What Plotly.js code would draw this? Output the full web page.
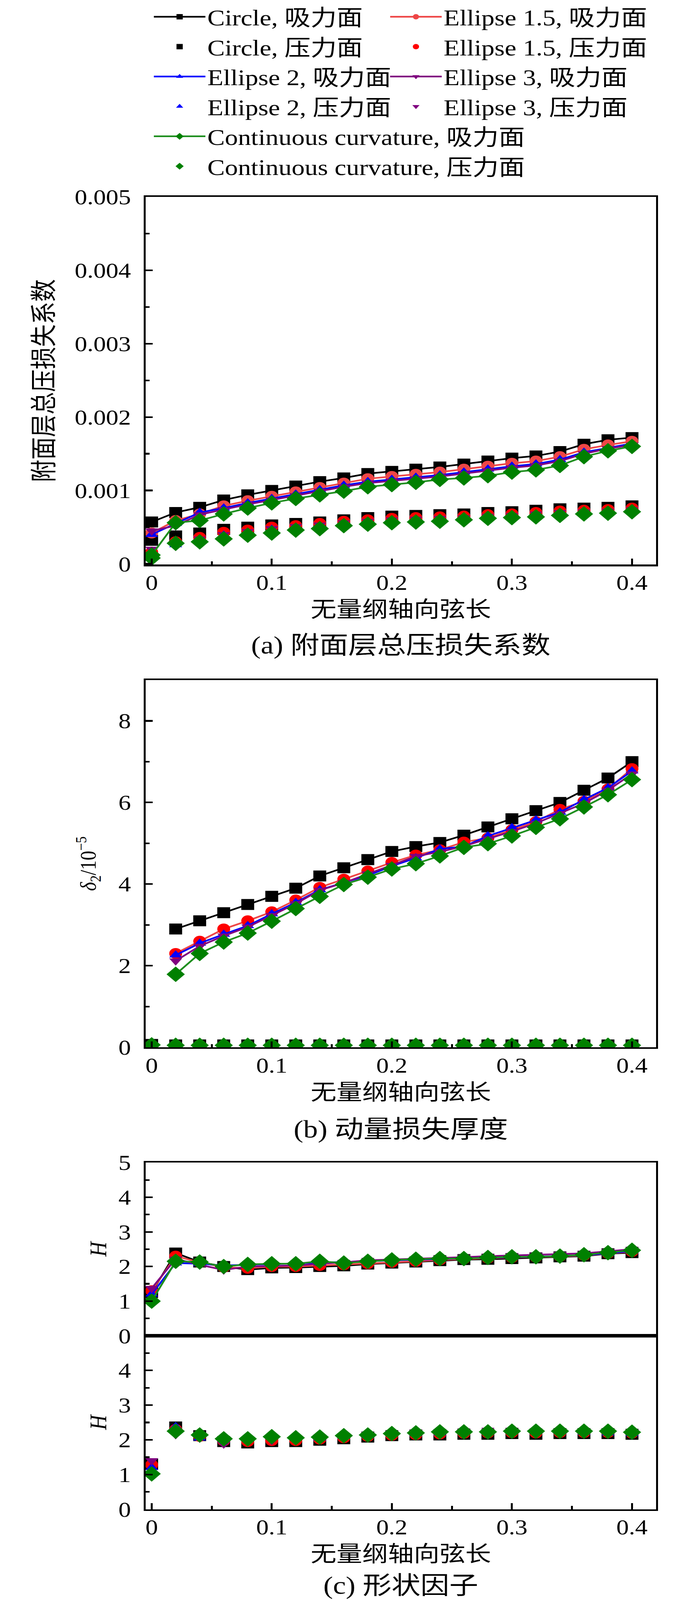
<!DOCTYPE html>
<html>
<head>
<meta charset="utf-8">
<script src="https://cdn.plot.ly/plotly-3.0.1.min.js"></script>
<style>
  body { margin: 0; background: #fff; overflow: hidden; }
  #plot { width: 1772px; height: 4822px; transform-origin: 0 0; }
</style>
</head>
<body>
<div id="plot"></div>
<script>
// axial chord positions (dimensionless)
var xs = [0, 0.02, 0.04, 0.06, 0.08, 0.10, 0.12, 0.14, 0.16, 0.18, 0.20,
          0.22, 0.24, 0.26, 0.28, 0.30, 0.32, 0.34, 0.36, 0.38, 0.40];
var xsNoLE = [0.02, 0.04, 0.06, 0.08, 0.10, 0.12, 0.14, 0.16, 0.18, 0.20,
              0.22, 0.24, 0.26, 0.28, 0.30, 0.32, 0.34, 0.36, 0.38, 0.40];

var shapes = ["Circle", "Ellipse 1.5", "Ellipse 2", "Ellipse 3", "Continuous curvature"];
var sides = ["吸力面", "压力面"];

// (a) total pressure loss coefficient, suction side
var lossCircleSS = [0.00057, 0.00070, 0.00077, 0.00087, 0.00094, 0.00100, 0.00106, 0.00112, 0.00117, 0.00123, 0.00126,
                    0.00129, 0.00132, 0.00136, 0.00140, 0.00144, 0.00147, 0.00153, 0.00163, 0.00169, 0.00172];
var lossE15SS = [0.00042, 0.00059, 0.00068, 0.00079, 0.00086, 0.00092, 0.00098, 0.00104, 0.00110, 0.00116, 0.00119,
                 0.00122, 0.00125, 0.00129, 0.00133, 0.00137, 0.00140, 0.00146, 0.00156, 0.00162, 0.00167];
var lossE2SS = [0.00040, 0.00055, 0.00070, 0.00076, 0.00083, 0.00089, 0.00095, 0.00101, 0.00107, 0.00112, 0.00115,
                0.00118, 0.00121, 0.00125, 0.00129, 0.00133, 0.00136, 0.00142, 0.00152, 0.00158, 0.00164];
var lossE3SS = [0.00045, 0.00052, 0.00067, 0.00074, 0.00081, 0.00087, 0.00093, 0.00099, 0.00105, 0.00110, 0.00113,
                0.00116, 0.00119, 0.00123, 0.00127, 0.00131, 0.00134, 0.00140, 0.00150, 0.00157, 0.00162];
var lossCCSS = [0.00012, 0.00056, 0.00059, 0.00068, 0.00076, 0.00083, 0.00089, 0.00094, 0.00099, 0.00105, 0.00108,
                0.00111, 0.00115, 0.00117, 0.00120, 0.00125, 0.00128, 0.00134, 0.00146, 0.00154, 0.00160];
// (a) pressure side
var lossCirclePS = [0.00032, 0.00038, 0.00042, 0.00047, 0.00050, 0.00053, 0.00055, 0.00057, 0.00060, 0.00063, 0.00065,
                    0.00066, 0.00067, 0.00068, 0.00070, 0.00071, 0.00073, 0.00075, 0.00076, 0.00077, 0.00079];
var lossE15PS = [0.00016, 0.00030, 0.00036, 0.00043, 0.00046, 0.00050, 0.00052, 0.00055, 0.00058, 0.00060, 0.00062,
                 0.00063, 0.00064, 0.00065, 0.00067, 0.00068, 0.00070, 0.00072, 0.00073, 0.00074, 0.00076];
var lossE2PS = [0.00012, 0.00026, 0.00032, 0.00039, 0.00043, 0.00047, 0.00050, 0.00052, 0.00055, 0.00057, 0.00059,
                0.00060, 0.00061, 0.00062, 0.00064, 0.00065, 0.00067, 0.00069, 0.00070, 0.00071, 0.00073];
var lossE3PS = [0.00020, 0.00024, 0.00034, 0.00040, 0.00044, 0.00048, 0.00051, 0.00053, 0.00056, 0.00058, 0.00060,
                0.00061, 0.00062, 0.00063, 0.00065, 0.00066, 0.00068, 0.00070, 0.00071, 0.00072, 0.00074];
var lossCCPS = [0.00008, 0.00028, 0.00030, 0.00034, 0.00039, 0.00042, 0.00046, 0.00048, 0.00052, 0.00054, 0.00056,
                0.00057, 0.00058, 0.00060, 0.00062, 0.00063, 0.00064, 0.00066, 0.00068, 0.00069, 0.00071];

// (b) momentum thickness / 1e-5, suction side (starts at 0.02)
var thetaCircleSS = [2.90, 3.10, 3.30, 3.50, 3.70, 3.90, 4.20, 4.40, 4.60, 4.80,
                     4.92, 5.02, 5.20, 5.40, 5.60, 5.80, 6.00, 6.30, 6.60, 7.00];
var thetaE15SS = [2.30, 2.60, 2.90, 3.10, 3.32, 3.61, 3.92, 4.12, 4.32, 4.53,
                  4.71, 4.84, 5.03, 5.13, 5.33, 5.53, 5.83, 6.03, 6.33, 6.83];
var thetaE2SS = [2.26, 2.55, 2.77, 2.98, 3.27, 3.55, 3.86, 4.03, 4.21, 4.44,
                 4.64, 4.86, 4.92, 5.18, 5.38, 5.57, 5.76, 6.07, 6.36, 6.77];
var thetaE3SS = [2.12, 2.48, 2.73, 2.95, 3.23, 3.52, 3.85, 4.03, 4.25, 4.46,
                 4.68, 4.79, 4.93, 5.11, 5.29, 5.49, 5.73, 5.98, 6.30, 6.70];
var thetaCCSS = [1.79, 2.30, 2.58, 2.80, 3.09, 3.40, 3.70, 3.99, 4.17, 4.37,
                 4.50, 4.69, 4.90, 4.99, 5.18, 5.39, 5.60, 5.89, 6.19, 6.56];
// (b) pressure side
var thetaCirclePS = [0.07, 0.06, 0.06, 0.06, 0.06, 0.06, 0.06, 0.06, 0.06, 0.06, 0.06,
                     0.06, 0.06, 0.06, 0.06, 0.06, 0.06, 0.06, 0.06, 0.06, 0.06];
var thetaE15PS = [0.06, 0.05, 0.05, 0.05, 0.05, 0.05, 0.05, 0.05, 0.05, 0.05, 0.05,
                  0.05, 0.05, 0.05, 0.05, 0.05, 0.05, 0.05, 0.05, 0.05, 0.05];
var thetaE2PS = [0.06, 0.05, 0.05, 0.05, 0.05, 0.05, 0.05, 0.05, 0.05, 0.05, 0.05,
                 0.05, 0.05, 0.05, 0.05, 0.05, 0.05, 0.05, 0.05, 0.05, 0.05];
var thetaE3PS = [0.06, 0.05, 0.05, 0.05, 0.05, 0.05, 0.05, 0.05, 0.05, 0.05, 0.05,
                 0.05, 0.05, 0.05, 0.05, 0.05, 0.05, 0.05, 0.05, 0.05, 0.05];
var thetaCCPS = [0.06, 0.05, 0.05, 0.05, 0.05, 0.05, 0.05, 0.05, 0.05, 0.05, 0.05,
                 0.05, 0.05, 0.05, 0.05, 0.05, 0.05, 0.05, 0.05, 0.05, 0.05];

// (c) shape factor H, suction side
var hCircleSS = [1.25, 2.39, 2.13, 2.00, 1.91, 1.96, 1.97, 2.00, 2.02, 2.07, 2.10,
                 2.13, 2.17, 2.20, 2.21, 2.23, 2.25, 2.28, 2.30, 2.37, 2.40];
var hE15SS = [1.30, 2.30, 2.12, 1.98, 1.95, 2.00, 2.00, 2.03, 2.05, 2.08, 2.12,
              2.15, 2.19, 2.22, 2.24, 2.26, 2.27, 2.29, 2.32, 2.38, 2.43];
var hE2SS = [1.20, 2.10, 2.08, 2.03, 2.05, 2.07, 2.08, 2.10, 2.12, 2.15, 2.18,
             2.20, 2.21, 2.23, 2.25, 2.27, 2.28, 2.30, 2.33, 2.38, 2.45];
var hE3SS = [1.37, 2.22, 2.05, 1.90, 2.00, 2.02, 2.03, 2.08, 2.12, 2.18, 2.20,
             2.22, 2.25, 2.27, 2.30, 2.32, 2.33, 2.35, 2.38, 2.44, 2.50];
var hCCSS = [1.00, 2.15, 2.13, 2.00, 2.06, 2.08, 2.08, 2.15, 2.10, 2.15, 2.19,
             2.21, 2.23, 2.23, 2.26, 2.28, 2.28, 2.30, 2.34, 2.40, 2.47];
// (c) shape factor H, pressure side
var hCirclePS = [1.30, 2.37, 2.12, 1.95, 1.91, 1.95, 1.95, 1.99, 2.03, 2.08, 2.12,
                 2.14, 2.14, 2.16, 2.16, 2.18, 2.16, 2.18, 2.18, 2.18, 2.16];
var hE15PS = [1.28, 2.30, 2.10, 1.97, 1.95, 1.98, 1.98, 2.02, 2.06, 2.10, 2.13,
              2.15, 2.17, 2.19, 2.20, 2.21, 2.20, 2.21, 2.21, 2.21, 2.19];
var hE2PS = [1.20, 2.38, 2.05, 2.00, 2.08, 2.10, 2.08, 2.05, 2.10, 2.12, 2.20,
             2.18, 2.20, 2.24, 2.26, 2.26, 2.24, 2.24, 2.22, 2.20, 2.18];
var hE3PS = [1.40, 2.15, 2.05, 1.88, 1.98, 1.98, 1.98, 2.05, 2.08, 2.16, 2.20,
             2.22, 2.24, 2.26, 2.28, 2.28, 2.26, 2.26, 2.24, 2.24, 2.22];
var hCCPS = [1.02, 2.25, 2.14, 2.03, 2.03, 2.09, 2.06, 2.08, 2.12, 2.14, 2.18,
             2.20, 2.23, 2.23, 2.23, 2.25, 2.25, 2.25, 2.25, 2.25, 2.22];

// styles per shape
var lineColors = ["#000000", "#ee4646", "#0000ff", "#800080", "#1f8f1f"];
var markerColors = ["#000000", "#ff0000", "#0000ff", "#800080", "#008000"];
var symbols = ["square", "circle", "triangle-up", "triangle-down", "diamond"];
var sizes = [33, 33, 29, 29, 36];
var legendOf = ["legend", "legend2", "legend", "legend2", "legend"];

var FONT = "Liberation Serif, 'Noto Sans CJK SC', serif";

var panels = [
  { xa: "x", ya: "y", ss: [lossCircleSS, lossE15SS, lossE2SS, lossE3SS, lossCCSS],
    ps: [lossCirclePS, lossE15PS, lossE2PS, lossE3PS, lossCCPS], ssx: xs, legend: true },
  { xa: "x2", ya: "y2", ss: [thetaCircleSS, thetaE15SS, thetaE2SS, thetaE3SS, thetaCCSS],
    ps: [thetaCirclePS, thetaE15PS, thetaE2PS, thetaE3PS, thetaCCPS], ssx: xsNoLE, legend: false },
  { xa: "x3", ya: "y3", ss: [hCircleSS, hE15SS, hE2SS, hE3SS, hCCSS], ps: null, ssx: xs, legend: false },
  { xa: "x4", ya: "y4", ss: null, ps: [hCirclePS, hE15PS, hE2PS, hE3PS, hCCPS], legend: false }
];

var traces = [];
panels.forEach(function (p) {
  for (var i = 0; i < shapes.length; i++) {
    if (p.ss) {
      traces.push({
        x: p.ssx, y: p.ss[i], xaxis: p.xa, yaxis: p.ya,
        type: "scatter", mode: "lines+markers",
        name: shapes[i] + ", " + sides[0],
        legend: legendOf[i], showlegend: p.legend,
        line: { color: lineColors[i], width: 5 },
        marker: { symbol: symbols[i], size: sizes[i],
                  color: p.legend && i == 1 ? lineColors[i] : markerColors[i],
                  line: { width: 0 } }
      });
    }
    if (p.ps) {
      traces.push({
        x: xs, y: p.ps[i], xaxis: p.xa, yaxis: p.ya,
        type: "scatter", mode: "markers",
        name: shapes[i] + ", " + sides[1],
        legend: legendOf[i], showlegend: p.legend,
        marker: { symbol: symbols[i], size: sizes[i], color: markerColors[i], line: { width: 0 } }
      });
    }
  }
});

function ax(extra) {
  var a = {
    showline: true, linecolor: "#000", linewidth: 5, mirror: true,
    ticks: "inside", ticklen: 18, tickwidth: 5, tickcolor: "#000",
    showgrid: false, zeroline: false,
    tickfont: { family: FONT, size: 64, color: "#000" },
    ticklabelstandoff: 20
  };
  for (var k in extra) a[k] = extra[k];
  return a;
}

var xDom = [0.2105, 0.948];
var xRange = [-0.005, 0.42];
var xTitle = { text: "无量纲轴向弦长", font: { family: FONT, size: 66, color: "#000" }, standoff: 24 };
var xMinor = { ticks: "inside", dtick: 0.05, ticklen: 10, tickwidth: 5, tickcolor: "#000" };
var yMinor = function (d) { return { ticks: "inside", dtick: d, ticklen: 10, tickwidth: 5, tickcolor: "#000" }; };

var layout = {
  width: 1772, height: 4822,
  margin: { l: 0, r: 0, t: 0, b: 0 },
  paper_bgcolor: "#fff", plot_bgcolor: "#fff",
  font: { family: FONT, size: 60, color: "#000" },
  xaxis: ax({ domain: xDom, range: xRange, dtick: 0.1, tick0: 0, anchor: "y", ticklabelstandoff: -6,
              title: xTitle, minor: xMinor }),
  yaxis: ax({ domain: [0.6501, 0.8810], range: [-0.00001, 0.005], dtick: 0.001, tick0: 0, anchor: "x",
              minor: yMinor(0.0005),
              title: { text: "附面层总压损失系数", font: { family: FONT, size: 68, color: "#000" }, standoff: 34 } }),
  xaxis2: ax({ domain: xDom, range: xRange, dtick: 0.1, tick0: 0, anchor: "y2", ticklabelstandoff: -6,
               title: xTitle, minor: xMinor }),
  yaxis2: ax({ domain: [0.3470, 0.5776], range: [0, 9], dtick: 2, tick0: 0, anchor: "x2",
               minor: yMinor(1),
               title: { text: "<i>δ</i><sub>2</sub>/10<sup>−5</sup>", font: { family: FONT, size: 58, color: "#000" }, standoff: 40 } }),
  xaxis3: ax({ domain: xDom, range: xRange, dtick: 0.1, tick0: 0, anchor: "y3", ticks: "", showticklabels: false }),
  yaxis3: ax({ domain: [0.1659, 0.2746], range: [0, 5], dtick: 1, tick0: 0, anchor: "x3",
               minor: yMinor(0.5),
               title: { text: "<i>H</i>", font: { family: FONT, size: 62, color: "#000" }, standoff: 12 } }),
  xaxis4: ax({ domain: xDom, range: xRange, dtick: 0.1, tick0: 0, anchor: "y4", ticklabelstandoff: -6,
               title: xTitle, minor: xMinor }),
  yaxis4: ax({ domain: [0.0570, 0.1659], range: [0, 5], tickvals: [0, 1, 2, 3, 4], anchor: "x4",
               minor: yMinor(0.5),
               title: { text: "<i>H</i>", font: { family: FONT, size: 62, color: "#000" }, standoff: 12 } }),
  legend: { x: 0.2195, y: 1.0045, xanchor: "left", yanchor: "top", bgcolor: "rgba(0,0,0,0)",
            itemwidth: 132, font: { family: FONT, size: 67, color: "#000" }, tracegroupgap: 0 },
  legend2: { x: 0.561, y: 1.0045, xanchor: "left", yanchor: "top", bgcolor: "rgba(0,0,0,0)",
             itemwidth: 132, font: { family: FONT, size: 67, color: "#000" }, tracegroupgap: 0 },
  annotations: [
    { text: "(a) 附面层总压损失系数", xref: "x domain", x: 0.5, yref: "paper", y: 0.5993, yanchor: "middle",
      showarrow: false, font: { family: FONT, size: 74, color: "#000" } },
    { text: "(b) 动量损失厚度", xref: "x2 domain", x: 0.5, yref: "paper", y: 0.2957, yanchor: "middle",
      showarrow: false, font: { family: FONT, size: 74, color: "#000" } },
    { text: "(c) 形状因子", xref: "x4 domain", x: 0.5, yref: "paper", y: 0.0091, yanchor: "middle",
      showarrow: false, font: { family: FONT, size: 74, color: "#000" } }
  ]
};

// the browser window may be shorter than the figure; squeeze it vertically to fit
var fit = Math.min(1, window.innerHeight / 4822);
if (fit < 1) document.getElementById("plot").style.transform = "scale(1," + fit + ")";

Plotly.newPlot("plot", traces, layout, { displayModeBar: false, staticPlot: true });
</script>
</body>
</html>
